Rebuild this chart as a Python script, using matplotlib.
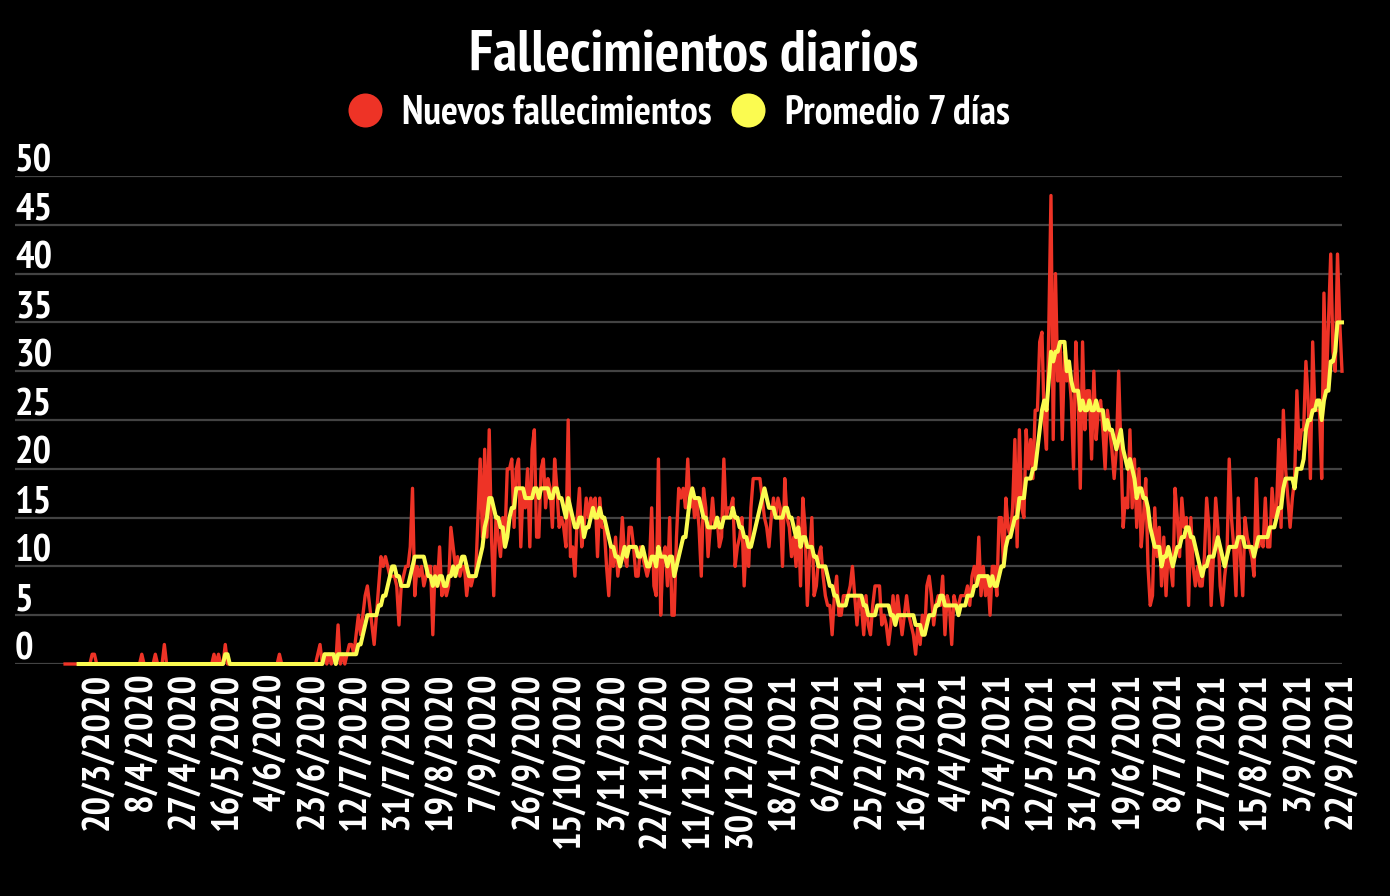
import matplotlib
matplotlib.use('Agg')
import matplotlib.pyplot as plt
from matplotlib.lines import Line2D
from matplotlib.transforms import ScaledTranslation
from matplotlib import font_manager as fm
from datetime import datetime
import numpy as np
import pandas as pd

# ---------------- data (daily deaths) ----------------
start_date = '2020-03-05'
end_date = '2021-09-22'

mar_2020 = [0,0,0,0,0,0,0,0,0,0,0,0,1,1,0,0,0,0,0,0,0,0,0,0,0,0,0]
apr_2020 = [0,0,0,0,0,0,0,1,0,0,0,0,0,1,0,0,0,2,0,0,0,0,0,0,0,0,0,0,0,0]
may_2020 = [0,0,0,0,0,0,0,0,0,1,0,1,0,0,2,0,0,0,0,0,0,0,0,0,0,0,0,0,0,0,0]
jun_2020 = [0,0,0,0,0,0,0,1,0,0,0,0,0,0,0,0,0,0,0,0,0,0,0,0,1,2,0,1,0,1]
jul_2020 = [0,1,0,4,0,1,0,1,2,2,1,3,5,3,5,7,8,6,4,2,5,8,11,10,11,10,9,9,9,8,4]
aug_2020 = [8,9,10,10,12,18,7,10,9,10,8,9,10,10,3,10,8,12,7,8,7,8,14,12,10,11,9,10,10,7,9]
sep_2020 = [8,9,9,15,21,13,22,13,24,13,7,15,13,11,15,13,20,20,21,14,20,21,12,18,16,20,12,22,24,13]
oct_2020 = [13,20,21,16,19,18,14,21,18,14,15,14,12,25,11,12,9,15,18,12,14,17,15,17,16,17,11,17,14,14,10]
nov_2020 = [7,12,10,13,9,11,15,11,10,14,14,12,9,9,12,11,10,9,10,16,8,7,21,5,11,12,8,15,5,5]
dec_2020 = [13,18,17,18,16,21,16,18,15,17,14,9,18,16,11,14,17,14,15,12,13,21,15,16,16,17,10,12,13,15,8]
jan_2021 = [13,10,16,19,19,19,19,17,15,14,12,15,17,15,17,16,10,19,15,14,11,13,10,15,8,17,14,6,11,15,7]
feb_2021 = [8,11,12,9,7,6,6,3,7,9,5,5,7,7,7,8,10,7,4,7,6,3,7,4,3,6,8,8]
mar_2021 = [8,4,5,4,2,4,7,4,7,5,3,5,7,5,4,3,1,4,2,5,3,8,9,7,4,6,7,6,9,3,7]
apr_2021 = [6,2,7,6,6,7,7,7,8,6,9,10,8,13,7,10,7,9,5,10,10,7,15,15,10,17,14,13,16,23]
may_2021 = [12,24,16,15,24,20,23,19,26,26,33,34,25,22,34,48,23,40,29,33,23,32,29,30,27,20,33,28,18,33,24]
jun_2021 = [28,28,21,30,23,26,27,24,20,26,24,22,19,22,30,22,14,17,16,24,16,21,14,20,12,15,19,10,6,7]
jul_2021 = [16,11,14,8,13,7,12,10,8,18,15,11,17,14,15,6,15,10,8,10,8,8,11,17,14,6,11,17,14,8,6]
aug_2021 = [9,11,21,15,12,7,17,11,7,15,13,12,11,9,19,12,13,12,17,12,12,18,15,16,23,14,26,20,17,14,17]
sep_2021 = [19,28,22,24,24,31,27,19,33,26,26,26,19,38,28,35,42,32,30,42,35,30]

tick_labels = ['20/3/2020', '8/4/2020', '27/4/2020', '16/5/2020', '4/6/2020',
               '23/6/2020', '12/7/2020', '31/7/2020', '19/8/2020', '7/9/2020',
               '26/9/2020', '15/10/2020', '3/11/2020', '22/11/2020', '11/12/2020',
               '30/12/2020', '18/1/2021', '6/2/2021', '25/2/2021', '16/3/2021',
               '4/4/2021', '23/4/2021', '12/5/2021', '31/5/2021', '19/6/2021',
               '8/7/2021', '27/7/2021', '15/8/2021', '3/9/2021', '22/9/2021']
y_ticks = [0, 5, 10, 15, 20, 25, 30, 35, 40, 45, 50]

title = 'Fallecimientos diarios'
series_names = ['Nuevos fallecimientos', 'Promedio 7 días']

# ---------------- build ----------------
deaths = np.array(mar_2020 + apr_2020 + may_2020 + jun_2020 + jul_2020 + aug_2020 +
                  sep_2020 + oct_2020 + nov_2020 + dec_2020 + jan_2021 + feb_2021 +
                  mar_2021 + apr_2021 + may_2021 + jun_2021 + jul_2021 + aug_2021 +
                  sep_2021, dtype=float)
dates = pd.date_range(start_date, end_date, freq='D')
n = min(len(dates), len(deaths))
dates = dates[:n]
deaths = deaths[:n]
avg7 = pd.Series(deaths).rolling(7).mean().round().values

RED = '#ee3326'
YEL = '#fbfb50'
GRID = '#434343'

available = {f.name for f in fm.fontManager.ttflist}
families = [f for f in ['PT Sans Narrow', 'Open Sans Condensed', 'IBM Plex Sans Condensed']
            if f in available] + ['DejaVu Sans']
plt.rcParams['font.family'] = families
plt.rcParams['font.weight'] = 'bold'

W, H = 1390, 896
fig = plt.figure(figsize=(W / 100, H / 100), dpi=100, facecolor='black')
ax = fig.add_axes([15 / W, 1 - 664 / H, (1342 - 15) / W, (664 - 176) / H])
ax.set_facecolor('black')

ax.plot(dates, deaths, color=RED, lw=2.4, clip_on=False, zorder=3)
ax.plot(dates, avg7, color=YEL, lw=2.9, clip_on=False, zorder=4)

ax.set_ylim(0, 50)
ax.set_yticks(y_ticks)
ax.yaxis.grid(True, color=GRID, lw=1.6)
ax.xaxis.grid(False)
ax.set_axisbelow(True)
for s in ax.spines.values():
    s.set_visible(False)

tick_dates = [pd.Timestamp(datetime.strptime(t, '%d/%m/%Y')) for t in tick_labels]
ax.set_xlim(tick_dates[0] - pd.Timedelta(hours=37.2 * 24), dates[-1])
ax.set_xticks(tick_dates)
ax.set_xticklabels(tick_labels, rotation=90, ha='center', va='top',
                   fontsize=28, fontweight='bold', color='white')
ax.tick_params(axis='x', length=0, pad=6)

ax.tick_params(axis='y', length=0, pad=0, labelsize=28, labelcolor='white')
off = ScaledTranslation(0, 5 / 100, fig.dpi_scale_trans)
for lbl in ax.get_yticklabels():
    lbl.set_horizontalalignment('left')
    lbl.set_verticalalignment('baseline')
    lbl.set_fontweight('bold')
    lbl.set_transform(lbl.get_transform() + off)

fig.text(0.4993, 1 - 71 / H, title, ha='center', va='baseline',
         fontsize=41.6, fontweight='bold', color='white')

handles = [Line2D([], [], marker='o', linestyle='none', markersize=24.5,
                  markerfacecolor=RED, markeredgewidth=0),
           Line2D([], [], marker='o', linestyle='none', markersize=24.5,
                  markerfacecolor=YEL, markeredgewidth=0)]
leg = fig.legend(handles, series_names, loc='center', ncol=2,
                 bbox_to_anchor=(0.4889, 1 - 113 / H), frameon=False,
                 fontsize=28.5, handlelength=0.82, handletextpad=0.525,
                 columnspacing=0.5, borderpad=0, borderaxespad=0)
for t in leg.get_texts():
    t.set_color('white')
    t.set_fontweight('bold')

fig.savefig('out.png', dpi=100, facecolor='black')
